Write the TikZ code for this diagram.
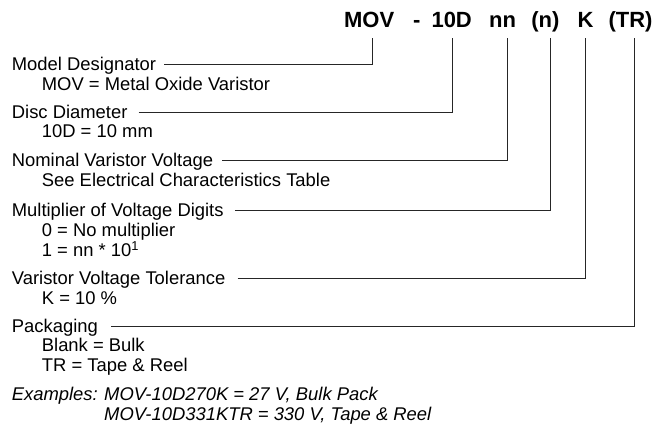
\documentclass[tikz,border=0pt]{standalone}
\usepackage{fontspec}
\setmainfont{Liberation Sans}
\begin{document}
\begin{tikzpicture}[x=1pt,y=-1pt,
  txt/.style={anchor=base west,inner sep=0pt,font=\fontsize{18.4}{20}\selectfont},
  exs/.style={txt,font=\fontsize{18.4}{20}\selectfont\itshape},
  ttl/.style={anchor=base,inner sep=0pt,font=\fontsize{22}{24}\selectfont\bfseries},
  lead/.style={line width=0.9pt,draw=black!85}]
\useasboundingbox (0,0) rectangle (666,425);
% title pieces
\node[ttl] (tmov) at (369.2,27.7) {MOV};
\node[ttl] (tdash) at (416.7,27.7) {-};
\node[ttl] (t10d) at (451.7,27.7) {10D};
\node[ttl] (tnn) at (502.5,27.7) {nn};
\node[ttl] (tn) at (545.3,27.7) {(n)};
\node[ttl] (tk) at (585.5,27.7) {K};
\node[ttl] (ttr) at (630.5,27.7) {(TR)};
% tick tops
\coordinate (kmov) at (372.7,38);
\coordinate (k10d) at (452.9,38);
\coordinate (knn) at (507,38);
\coordinate (kn) at (550.9,38);
\coordinate (kk) at (585.7,38);
\coordinate (ktr) at (634.2,38);
% headings and descriptions
\node[txt] (h1) at (11.7,70.7) {Model Designator};
\node[txt] (s1) at (41.7,90.2) {MOV = Metal Oxide Varistor};
\node[txt] (h2) at (11.7,118.3) {Disc Diameter};
\node[txt] (s2) at (41.7,137.8) {10D = 10 mm};
\node[txt] (h3) at (11.7,166.7) {Nominal Varistor Voltage};
\node[txt] (s3) at (41.7,186.2) {See Electrical Characteristics Table};
\node[txt] (h4) at (11.7,216.8) {Multiplier of Voltage Digits};
\node[txt] (s4a) at (41.7,236.3) {0 = No multiplier};
\node[txt] (s4b) at (41.7,256.3) {1 = nn * 10\textsuperscript{1}};
\node[txt] (h5) at (11.7,284.7) {Varistor Voltage Tolerance};
\node[txt] (s5) at (41.7,304.2) {K = 10 \%};
\node[txt] (h6) at (11.7,332.3) {Packaging};
\node[txt] (s6a) at (41.7,351.8) {Blank = Bulk};
\node[txt] (s6b) at (41.7,371.8) {TR = Tape \& Reel};
\node[exs] (ex0) at (11.7,400) {Examples:};
\node[exs] (ex1) at (104,400) {MOV-10D270K = 27 V, Bulk Pack};
\node[exs] (ex2) at (104,420) {MOV-10D331KTR = 330 V, Tape \& Reel};
% leader lines
\draw[lead] ([shift={(8,-6)}]h1.base east) -| (kmov);
\draw[lead] ([shift={(11,-6)}]h2.base east) -| (k10d);
\draw[lead] ([shift={(9,-6)}]h3.base east) -| (knn);
\draw[lead] ([shift={(11,-6)}]h4.base east) -| (kn);
\draw[lead] ([shift={(12,-6)}]h5.base east) -| (kk);
\draw[lead] ([shift={(13,-6)}]h6.base east) -| (ktr);
\end{tikzpicture}
\end{document}
